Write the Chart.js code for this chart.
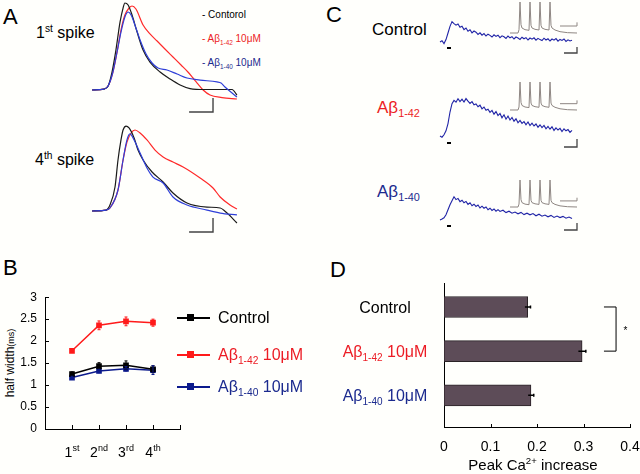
<!DOCTYPE html>
<html>
<head>
<meta charset="utf-8">
<script src="https://cdn.jsdelivr.net/npm/chart.js@4.4.1/dist/chart.umd.min.js"></script>
<style>
  body { margin: 0; width: 640px; height: 474px; background: #fffffc; position: relative; overflow: hidden;
         font-family: "Liberation Sans", Arial, sans-serif; }
  canvas { position: absolute; }
  .t { position: absolute; line-height: 1; white-space: nowrap; color: #000; }
  sub, sup { font-size: 64%; line-height: 0; }
  .red { color: #ec1c24; }
  .blue { color: #1b2a8e; }
  .ln { position: absolute; height: 2px; }
  .sq { position: absolute; width: 7px; height: 7px; }
</style>
</head>
<body>
<!-- A -->
<div class="t" style="left:3px;top:6px;font-size:22px">A</div>
<div class="t" style="left:36px;top:25px;font-size:16px">1<sup>st</sup> spike</div>
<div class="t" style="left:35px;top:152px;font-size:16px">4<sup>th</sup> spike</div>
<div class="t" style="left:202px;top:10px;font-size:10px">- Contorol</div>
<div class="t red" style="left:202px;top:34px;font-size:10px">- Aβ<sub>1-42</sub> 10μM</div>
<div class="t blue" style="left:202px;top:58px;font-size:10px">- Aβ<sub>1-40</sub> 10μM</div>
<canvas id="a1" width="150" height="118" style="left:92px;top:0px"></canvas>
<canvas id="a4" width="150" height="118" style="left:92px;top:118px"></canvas>

<!-- B -->
<div class="t" style="left:3px;top:257px;font-size:22px">B</div>
<div class="t" style="left:10px;top:363px;font-size:12px;transform:translate(-50%,-50%) rotate(-90deg)">half width<span style="font-size:9px">(ms)</span></div>
<canvas id="b" width="320" height="192" style="left:0px;top:282px"></canvas>
<div class="ln" style="left:177px;top:317px;width:33px;background:#000"></div>
<div class="sq" style="left:187px;top:314px;background:#000"></div>
<div class="t" style="left:218px;top:310px;font-size:16px">Control</div>
<div class="ln" style="left:177px;top:354px;width:33px;background:#ff1a1a"></div>
<div class="sq" style="left:187px;top:351px;background:#ff1a1a"></div>
<div class="t red" style="left:218px;top:347px;font-size:16px">Aβ<sub>1-42</sub> 10μM</div>
<div class="ln" style="left:177px;top:386px;width:33px;background:#0c1a8c"></div>
<div class="sq" style="left:187px;top:383px;background:#0c1a8c"></div>
<div class="t blue" style="left:218px;top:379px;font-size:16px">Aβ<sub>1-40</sub> 10μM</div>

<!-- C -->
<div class="t" style="left:326px;top:4px;font-size:22px">C</div>
<div class="t" style="left:372px;top:21px;font-size:17px">Control</div>
<div class="t red" style="left:377px;top:99px;font-size:17px">Aβ<sub>1-42</sub></div>
<div class="t blue" style="left:377px;top:183px;font-size:17px">Aβ<sub>1-40</sub></div>
<canvas id="c1" width="144" height="60" style="left:436px;top:0px"></canvas>
<canvas id="c2" width="144" height="80" style="left:436px;top:75px"></canvas>
<canvas id="c3" width="144" height="70" style="left:436px;top:170px"></canvas>
<canvas id="i1" width="72" height="36" style="left:508px;top:0px"></canvas>
<canvas id="i2" width="72" height="36" style="left:508px;top:78px"></canvas>
<canvas id="i3" width="72" height="36" style="left:508px;top:176px"></canvas>

<!-- D -->
<div class="t" style="left:330px;top:259px;font-size:22px">D</div>
<canvas id="d" width="320" height="212" style="left:320px;top:262px"></canvas>
<div class="t" style="left:433px;top:457px;width:200px;text-align:center;font-size:15px">Peak Ca<sup>2+</sup> increase</div>

<script>
// ---- A: action potential waveforms, [time ms, membrane potential mV]
const spike1Control = [[0,-65],[0.52,-64.2],[0.70,-61.7],[0.87,-50],[1.04,-31.7],[1.22,-8.3],[1.35,3.3],[1.43,7.5],[1.57,5.8],[1.74,-2.5],[1.96,-16.7],[2.22,-31.7],[2.52,-41.7],[2.96,-50],[3.39,-55.8],[3.83,-60.8],[4.26,-63.8],[4.91,-64.6],[6.09,-64.6],[6.30,-69.2]];
const spike1Ab42 = [[0,-65],[0.52,-64.2],[0.70,-61.7],[0.91,-50],[1.09,-33.3],[1.26,-15],[1.43,-2.5],[1.61,3.3],[1.74,5],[1.91,2.5],[2.22,-10.8],[2.52,-18.3],[2.83,-24.2],[3.17,-30.8],[3.52,-37.5],[3.87,-44.2],[4.17,-50],[4.39,-55],[4.57,-59.2],[4.83,-65],[5.13,-69.2],[5.65,-71.3],[6.30,-72.5]];
const spike1Ab40 = [[0,-65],[0.52,-64.2],[0.70,-61.7],[0.91,-50],[1.09,-33.3],[1.26,-16.7],[1.43,-4.2],[1.57,0],[1.70,-2.5],[1.91,-13.3],[2.09,-23.3],[2.35,-35],[2.61,-42.5],[2.87,-46.7],[3.26,-48.3],[3.70,-51.7],[4.13,-55],[4.70,-56.7],[5.43,-58.3],[5.61,-59.2],[5.78,-62.5],[6.30,-70.8]];
const spike4Control = [[0,-65],[0.61,-64.2],[0.78,-60],[1.0,-45],[1.13,-22.5],[1.26,-5.8],[1.35,2.5],[1.48,5.8],[1.61,4.2],[1.83,-4.2],[2.0,-14.2],[2.22,-22.5],[2.61,-32.5],[3.09,-40.8],[3.52,-50],[4.13,-58.3],[5.0,-61.7],[5.57,-62.5],[5.87,-66.7],[6.30,-75]];
const spike4Ab42 = [[0,-65],[0.61,-64.2],[0.78,-62.5],[1.13,-47.5],[1.35,-22.5],[1.52,-7.5],[1.70,0],[1.87,2.5],[2.09,0],[2.39,-5.8],[2.74,-14.2],[3.09,-20],[3.52,-24.2],[3.96,-28.3],[4.70,-37.5],[5.26,-45.8],[5.57,-53.3],[6.0,-60],[6.30,-63.3]];
const spike4Ab40 = [[0,-65],[0.61,-64.2],[0.78,-62.5],[1.13,-47.5],[1.35,-22.5],[1.52,-5.8],[1.65,-0.8],[1.83,-5.8],[2.09,-16.7],[2.39,-29.2],[2.65,-36.7],[3.09,-41.7],[3.52,-53.3],[4.13,-60],[5.0,-64.2],[5.57,-66.7],[6.30,-68.3]];
const scaleA1 = [[4.22,-83.3],[5.26,-83.3],[5.26,-71.7]];
const scaleA4 = [[4.22,-82.5],[5.26,-82.5],[5.26,-70.8]];

// ---- B: spike half width (ms)
const spikeNums = ['1', '2', '3', '4'];
const spikeSups = ['st', 'nd', 'rd', 'th'];
const hwControl = [1.25, 1.43, 1.45, 1.36];
const hwControlErr = [0.05, 0.08, 0.1, 0.08];
const hwAb42 = [1.78, 2.36, 2.45, 2.42];
const hwAb42Err = [0.03, 0.1, 0.1, 0.08];
const hwAb40 = [1.17, 1.32, 1.37, 1.34];
const hwAb40Err = [0.03, 0.04, 0.05, 0.1];
const yTicksB = [0, 0.5, 1, 1.5, 2, 2.5, 3];

// ---- C: Ca2+ transients [time s, dF/F %], inset spike train [ms, mV]
const caControl = [[0,0],[0.2,0.6],[0.4,-0.8],[0.6,1.2],[0.8,4.5],[1.0,7.8],[1.2,10.2],[1.4,9.2],[1.6,8.4],[1.8,9.0],[2.0,7.4],[2.2,7.9],[2.4,6.2],[2.6,7.0],[2.8,5.4],[3.0,6.1],[3.2,4.6],[3.4,5.5],[3.6,4.9],[3.8,3.8],[4.0,4.6],[4.2,3.4],[4.4,4.2],[4.6,3.0],[4.8,3.9],[5.0,3.3],[5.2,2.5],[5.4,3.6],[5.6,2.8],[5.8,3.4],[6.0,2.2],[6.2,3.1],[6.4,2.6],[6.6,1.8],[6.8,3.0],[7.0,2.1],[7.2,2.7],[7.4,1.5],[7.6,2.5],[7.8,2.0],[8.0,1.3],[8.2,2.4],[8.4,1.6],[8.6,2.2],[8.8,1.0],[9.0,2.0],[9.2,1.4],[9.4,2.1],[9.6,0.9],[9.8,1.8],[10.0,1.2],[10.2,0.7],[10.4,1.9],[10.6,1.0],[10.8,1.6],[11.0,0.5],[11.2,1.5],[11.4,0.9],[11.6,1.7],[11.8,0.4],[12.0,1.3],[12.2,0.8],[12.4,1.5],[12.6,0.3],[12.8,1.1],[13.0,0.5],[13.2,0.9]];
const caAb42 = [[0,0],[0.2,-0.6],[0.4,0.6],[0.6,2.6],[0.8,6.2],[1.0,12],[1.2,16.2],[1.4,17.8],[1.6,16.9],[1.8,18.6],[2.0,17.2],[2.2,18.4],[2.4,17.0],[2.6,18.7],[2.8,17.4],[3.0,16.3],[3.2,17.2],[3.4,15.6],[3.6,16.0],[3.8,14.6],[4.0,15.4],[4.2,13.6],[4.4,14.5],[4.6,12.9],[4.8,13.4],[5.0,11.8],[5.2,12.8],[5.4,10.9],[5.6,12.2],[5.8,10.2],[6.0,11.3],[6.2,9.1],[6.4,10.6],[6.6,8.4],[6.8,10.0],[7.0,8.0],[7.2,9.3],[7.4,7.4],[7.6,8.6],[7.8,6.6],[8.0,7.8],[8.2,6.3],[8.4,7.2],[8.6,5.6],[8.8,7.0],[9.0,5.2],[9.2,6.4],[9.4,5.0],[9.6,6.0],[9.8,4.4],[10.0,5.6],[10.2,4.2],[10.4,5.3],[10.6,3.6],[10.8,4.8],[11.0,3.4],[11.2,4.6],[11.4,2.8],[11.6,4.1],[11.8,3.0],[12.0,3.8],[12.2,2.2],[12.4,3.6],[12.6,2.6],[12.8,3.2],[13.0,1.8],[13.2,2.8]];
const caAb40 = [[0,0],[0.2,0.5],[0.4,1.1],[0.6,2.6],[0.8,5.1],[1.0,7.6],[1.2,9.6],[1.4,11.6],[1.6,10.2],[1.8,10.8],[2.0,9.2],[2.2,9.9],[2.4,8.6],[2.6,9.3],[2.8,7.8],[3.0,8.6],[3.2,7.1],[3.4,7.9],[3.6,6.8],[3.8,7.5],[4.0,6.0],[4.2,6.9],[4.4,5.9],[4.6,6.5],[4.8,5.1],[5.0,5.9],[5.2,4.8],[5.4,5.5],[5.6,4.4],[5.8,5.2],[6.0,4.3],[6.3,4.9],[6.6,3.7],[6.9,4.4],[7.2,3.4],[7.5,4.0],[7.8,3.1],[8.1,3.8],[8.4,2.7],[8.7,3.4],[9.0,2.6],[9.3,3.2],[9.6,2.1],[9.9,2.9],[10.2,1.9],[10.5,2.5],[10.8,1.6],[11.1,2.3],[11.4,1.3],[11.7,2.0],[12.0,1.2],[12.3,1.8],[12.6,0.9],[12.9,1.5],[13.2,0.7]];
const stimC1 = [[0.7,-3],[1.1,-3]];
const stimC2 = [[0.7,-3.5],[1.1,-3.5]];
const stimC3 = [[0.7,-3],[1.1,-3]];
const scaleC1 = [[12.4,-5.5],[13.7,-5.5],[13.7,-2.5]];
const scaleC2 = [[12.4,-5.5],[13.7,-5.5],[13.7,-1.5]];
const scaleC3 = [[12.4,-5],[13.7,-5],[13.7,-1.5]];
const spikeTrain = [[0,-65],[16,-65],[18,-55],[20,28],[22,-40],[24,-50],[30,-55],[38,-57],[40,28],[42,-42],[44,-50],[50,-54],[58,-56],[60,28],[62,-42],[64,-50],[70,-54],[78,-56],[80,28],[82,-42],[84,-50],[90,-56],[100,-61],[115,-64],[134,-65]];
const insetScale = [[100,-44],[134,-44],[134,-33]];

// ---- D: peak Ca2+ increase
const groupLabels = [[['Control', '']], [['Aβ', ''], ['1-42', 'sub'], [' 10μM', '']], [['Aβ', ''], ['1-40', 'sub'], [' 10μM', '']]];
const groupColors = ['#000', '#ec1c24', '#1b2a8e'];
const peakCa = [0.18, 0.297, 0.187];
const peakCaErr = [0.006, 0.008, 0.006];
const xTicksD = [0, 0.1, 0.2, 0.3, 0.4];
const xTickLabelsD = ['0', '0.1', '0.2', '0.3', '0.4'];

const FONT = '"Liberation Sans", Arial, sans-serif';

function richText(ctx, parts, x, y, size, color, align) {
  const fontOf = k => (k ? Math.round(size * 0.64) : size) + 'px ' + FONT;
  let w = 0;
  parts.forEach(p => { ctx.font = fontOf(p[1]); w += ctx.measureText(p[0]).width; });
  let cx = align === 'center' ? x - w / 2 : (align === 'right' ? x - w : x);
  const base = y + size * 0.36;
  ctx.save();
  ctx.fillStyle = color;
  ctx.textAlign = 'left';
  ctx.textBaseline = 'alphabetic';
  parts.forEach(p => {
    ctx.font = fontOf(p[1]);
    const dy = p[1] === 'sub' ? size * 0.24 : (p[1] === 'sup' ? -size * 0.4 : 0);
    ctx.fillText(p[0], cx, base + dy);
    cx += ctx.measureText(p[0]).width;
  });
  ctx.restore();
}

const pts = arr => arr.map(p => ({ x: p[0], y: p[1] }));

function traceChart(id, sets, xr, yr) {
  return new Chart(document.getElementById(id), {
    type: 'scatter',
    data: {
      datasets: sets.map(s => ({
        data: pts(s.data),
        showLine: true,
        borderColor: s.color,
        borderWidth: s.width || 1.2,
        pointRadius: 0,
        tension: 0,
        cubicInterpolationMode: s.smooth ? 'monotone' : 'default',
        clip: false
      }))
    },
    options: {
      responsive: false, animation: false, devicePixelRatio: 1,
      layout: { padding: 0 },
      plugins: { legend: { display: false }, tooltip: { enabled: false } },
      scales: {
        x: { type: 'linear', display: false, min: xr[0], max: xr[1] },
        y: { type: 'linear', display: false, min: yr[0], max: yr[1] }
      }
    }
  });
}

// panel A
const cBlack = '#1a1a1a', cRed = '#ff2a2a', cBlue = '#2f3fd8', cBar = '#444';
traceChart('a1', [
  { data: spike1Ab40, color: cBlue, smooth: true },
  { data: spike1Control, color: cBlack, smooth: true },
  { data: spike1Ab42, color: cRed, smooth: true },
  { data: scaleA1, color: cBar, width: 1.4 }
], [0, 6.52], [-88.33, 10]);
traceChart('a4', [
  { data: spike4Ab40, color: cBlue, smooth: true },
  { data: spike4Control, color: cBlack, smooth: true },
  { data: spike4Ab42, color: cRed, smooth: true },
  { data: scaleA4, color: cBar, width: 1.4 }
], [0, 6.52], [-85.83, 12.5]);

// panel C
const cCa = '#1f23a6', cGray = '#8e8682';
traceChart('c1', [{ data: caControl, color: cCa, width: 1.1 }, { data: stimC1, color: '#000', width: 2 }, { data: scaleC1, color: cBar, width: 1.3 }], [-0.4, 14], [-9, 21]);
traceChart('c2', [{ data: caAb42, color: cCa, width: 1.1 }, { data: stimC2, color: '#000', width: 2 }, { data: scaleC2, color: cBar, width: 1.3 }], [-0.4, 14], [-9.5, 30.5]);
traceChart('c3', [{ data: caAb40, color: cCa, width: 1.1 }, { data: stimC3, color: '#000', width: 2 }, { data: scaleC3, color: cBar, width: 1.3 }], [-0.4, 14], [-10, 25]);
traceChart('i1', [{ data: spikeTrain, color: cGray, width: 1 }, { data: insetScale, color: cGray, width: 1 }], [-4, 140], [-74, 34]);
traceChart('i2', [{ data: spikeTrain, color: cGray, width: 1 }, { data: insetScale, color: cGray, width: 1 }], [-4, 140], [-78.3, 41.3]);
traceChart('i3', [{ data: spikeTrain, color: cGray, width: 1 }, { data: insetScale, color: cGray, width: 1 }], [-4, 140], [-82.2, 41.8]);

// ticks drawn inward from the axis line
const innerTicks = {
  id: 'innerTicks',
  afterDraw(chart, args, opts) {
    const { ctx, chartArea, scales } = chart;
    ctx.save();
    ctx.strokeStyle = '#000';
    ctx.lineWidth = 1;
    ctx.beginPath();
    (opts.x || []).forEach(v => {
      const px = Math.round(scales.x.getPixelForValue(v)) + 0.5;
      ctx.moveTo(px, chartArea.bottom);
      ctx.lineTo(px, chartArea.bottom - opts.len);
    });
    (opts.y || []).forEach(v => {
      const py = Math.round(scales.y.getPixelForValue(v)) + 0.5;
      ctx.moveTo(chartArea.left, py);
      ctx.lineTo(chartArea.left + opts.len, py);
    });
    ctx.stroke();
    ctx.restore();
  }
};

// vertical error bars for panel B
const errorBarsB = {
  id: 'errorBarsB',
  afterDatasetsDraw(chart) {
    const { ctx, scales } = chart;
    chart.data.datasets.forEach(ds => {
      ctx.save();
      ctx.strokeStyle = ds.borderColor;
      ctx.lineWidth = 1;
      ds.data.forEach((p, i) => {
        const x = scales.x.getPixelForValue(p.x);
        const y1 = scales.y.getPixelForValue(p.y + ds.errs[i]);
        const y2 = scales.y.getPixelForValue(p.y - ds.errs[i]);
        ctx.beginPath();
        ctx.moveTo(x, y1); ctx.lineTo(x, y2);
        ctx.moveTo(x - 1.5, y1); ctx.lineTo(x + 1.5, y1);
        ctx.moveTo(x - 1.5, y2); ctx.lineTo(x + 1.5, y2);
        ctx.stroke();
      });
      ctx.restore();
    });
  }
};

const spikeLabelsB = {
  id: 'spikeLabelsB',
  afterDraw(chart) {
    const { ctx, scales } = chart;
    spikeNums.forEach((n, i) => {
      richText(ctx, [[n, ''], [spikeSups[i], 'sup']], scales.x.getPixelForValue(i + 1), 170, 14, '#000', 'center');
    });
  }
};

function seriesB(label, vals, errs, color) {
  return {
    label, errs,
    data: vals.map((v, i) => ({ x: i + 1, y: v })),
    borderColor: color, backgroundColor: color,
    borderWidth: 1.5, pointStyle: 'rect', pointRadius: 4, pointBorderWidth: 0, tension: 0
  };
}

new Chart(document.getElementById('b'), {
  type: 'line',
  data: {
    datasets: [
      seriesB('Control', hwControl, hwControlErr, '#000'),
      seriesB('Aβ1-42 10μM', hwAb42, hwAb42Err, '#ff1a1a'),
      seriesB('Aβ1-40 10μM', hwAb40, hwAb40Err, '#0c1a8c')
    ]
  },
  options: {
    responsive: false, animation: false, devicePixelRatio: 1,
    layout: { padding: { top: 6, right: 140, left: 0, bottom: 0 } },
    plugins: {
      legend: { display: false }, tooltip: { enabled: false },
      innerTicks: { x: [1, 2, 3, 4, 5], y: yTicksB, len: 4 }
    },
    scales: {
      x: {
        type: 'linear', min: 0, max: 5,
        ticks: { display: false },
        grid: { display: false, drawTicks: false },
        border: { color: '#000', width: 1 },
        afterFit: s => { s.height = 45; }
      },
      y: {
        type: 'linear', min: 0, max: 3,
        afterBuildTicks: s => { s.ticks = yTicksB.map(v => ({ value: v })); },
        ticks: { padding: 8, color: '#000', font: { size: 12, family: FONT }, callback: v => String(v) },
        grid: { display: false, drawTicks: false },
        border: { color: '#000', width: 1 },
        afterFit: s => { s.width = 45; }
      }
    }
  },
  plugins: [innerTicks, errorBarsB, spikeLabelsB]
});

// panel D extras: error bars, group labels, significance bracket
const barExtrasD = {
  id: 'barExtrasD',
  afterDatasetsDraw(chart) {
    const { ctx, scales } = chart;
    const xs = scales.x, ys = scales.y;
    ctx.save();
    ctx.strokeStyle = '#000';
    ctx.lineWidth = 1.5;
    peakCa.forEach((v, i) => {
      const y = ys.getPixelForValue(i);
      const a = xs.getPixelForValue(v - peakCaErr[i]), b = xs.getPixelForValue(v + peakCaErr[i]);
      ctx.beginPath();
      ctx.moveTo(a, y); ctx.lineTo(b, y);
      ctx.moveTo(b, y - 1.5); ctx.lineTo(b, y + 1.5);
      ctx.stroke();
    });
    // bracket Control vs Aβ1-42
    ctx.lineWidth = 1;
    const bx0 = xs.getPixelForValue(0.344), bx1 = xs.getPixelForValue(0.37);
    const by0 = ys.getPixelForValue(0), by1 = ys.getPixelForValue(1);
    ctx.beginPath();
    ctx.moveTo(bx0, by0); ctx.lineTo(bx1, by0); ctx.lineTo(bx1, by1); ctx.lineTo(bx0, by1);
    ctx.stroke();
    ctx.fillStyle = '#000';
    ctx.font = '10px ' + FONT;
    ctx.textAlign = 'center';
    ctx.textBaseline = 'middle';
    ctx.fillText('*', xs.getPixelForValue(0.39), (by0 + by1) / 2 + 2);
    ctx.restore();
    groupLabels.forEach((parts, i) => {
      richText(ctx, parts, 65, ys.getPixelForValue(i), 16, groupColors[i], 'center');
    });
  }
};

new Chart(document.getElementById('d'), {
  type: 'bar',
  data: {
    datasets: [{
      data: peakCa.map((v, i) => ({ x: v, y: i })),
      backgroundColor: '#5d4c58',
      borderColor: '#2a2226',
      borderWidth: 1,
      borderSkipped: false,
      barThickness: 21
    }]
  },
  options: {
    indexAxis: 'y',
    responsive: false, animation: false, devicePixelRatio: 1,
    layout: { padding: { top: 21, right: 10, left: 0, bottom: 0 } },
    plugins: {
      legend: { display: false }, tooltip: { enabled: false },
      innerTicks: { x: xTicksD.slice(1), len: 3 }
    },
    scales: {
      x: {
        type: 'linear', min: 0, max: 0.4,
        afterBuildTicks: s => { s.ticks = xTicksD.map(v => ({ value: v })); },
        ticks: { padding: 12, color: '#000', font: { size: 14, family: FONT }, maxRotation: 0, callback: (v, i) => xTickLabelsD[i] },
        grid: { display: false, drawTicks: false },
        border: { color: '#000', width: 1 },
        afterFit: s => { s.height = 47; s.paddingRight = 0; s.paddingLeft = 0; }
      },
      y: {
        type: 'linear', reverse: true, min: -0.31, max: 2.485,
        ticks: { display: false },
        grid: { display: false, drawTicks: false },
        border: { color: '#000', width: 1 },
        afterFit: s => { s.width = 124; }
      }
    }
  },
  plugins: [innerTicks, barExtrasD]
});
</script>
</body>
</html>
